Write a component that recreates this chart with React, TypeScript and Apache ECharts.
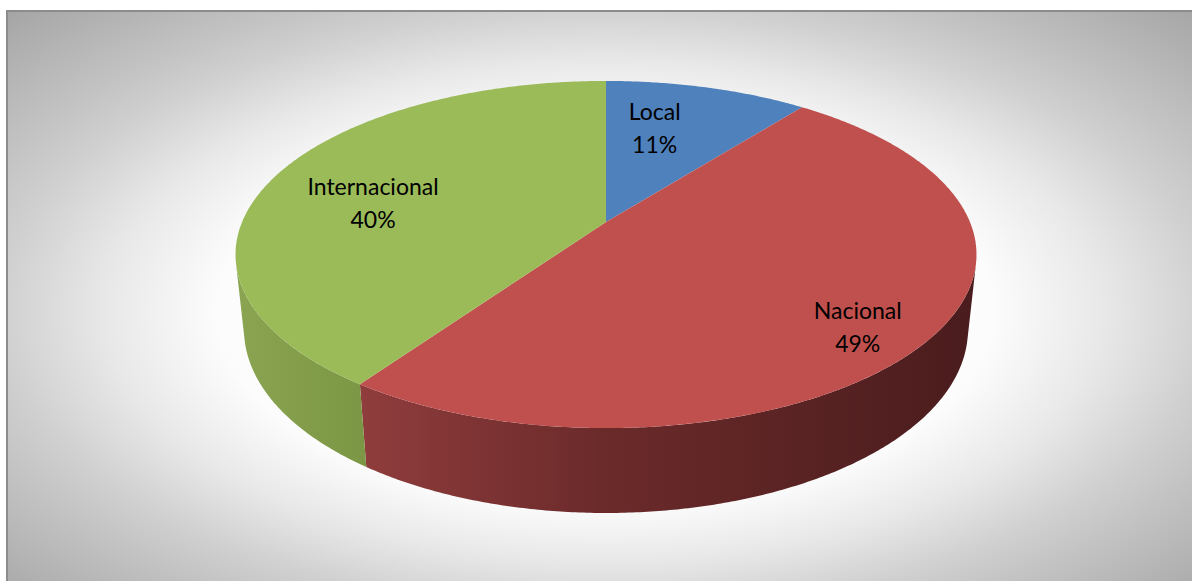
import React, { useEffect, useRef } from "react";
import * as echarts from "echarts";

// ---- data ----
const categories = ["Local", "Nacional", "Internacional"];
const values = [10.6, 49.1, 40.3];

// ---- styles ----
const topColors = ["#4f81bd", "#c0504d", "#9bbb59"];
const sideStops: Array<Array<[number, string]>> = [
  [[0, "#3f6496"], [1, "#243a57"]],
  [[0, "#9a4242"], [0.17, "#8f3c3c"], [0.5, "#6b2a2a"], [1, "#4a1c1d"]],
  [[0, "#8aa451"], [0.18, "#7b9644"], [1, "#5a7230"]],
];
// label anchor: angle offset from slice middle (deg) and radius fraction
const labelDA = [-5.7, 5.4, -6.9];
const labelR = [0.646, 0.833, 0.666];

// ---- projection (perspective camera) ----
const DEG = Math.PI / 180;
const CX = 606;
const CY = 222;
const F = 1725;
const D = 4.74;
const PHI = 27.4 * DEG;
const C = Math.cos(PHI);
const S = Math.sin(PHI);
const H = 0.234;

function project(a: number, r: number, z: number): number[] {
  const x = r * Math.sin(a);
  const y = r * Math.cos(a);
  const depth = D + y * C - z * S;
  return [CX + (F * x) / depth, CY - (F * (y * S + z * C)) / depth];
}

function arcPoints(a0: number, a1: number, r: number, z: number): number[][] {
  const n = Math.max(2, Math.ceil(Math.abs(a1 - a0) / (0.5 * DEG)));
  const pts: number[][] = [];
  for (let k = 0; k <= n; k++) pts.push(project(a0 + ((a1 - a0) * k) / n, r, z));
  return pts;
}

const total = values.reduce((s, v) => s + v, 0);
function sliceAngles(i: number): number[] {
  let s = 0;
  for (let j = 0; j < i; j++) s += values[j];
  return [(s / total) * 2 * Math.PI, ((s + values[i]) / total) * 2 * Math.PI];
}

const visA = Math.acos(-1 / (D * C));
const visB = 2 * Math.PI - visA;

export default function App() {
  const ref = useRef<HTMLDivElement>(null);
  useEffect(() => {
    document.body.style.margin = "0";
    if (!ref.current) return;
    const chart = echarts.init(ref.current, null, { renderer: "svg" });
    const data = values.map((v, i) => ({ name: categories[i], value: v }));
    const xL = project(-Math.PI / 2, 1, 0)[0] - 5;
    const xR = project(Math.PI / 2, 1, 0)[0] + 5;
    chart.setOption({
      animation: false,
      graphic: [
        {
          type: "rect",
          z: -10,
          silent: true,
          shape: { x: 7, y: 11, width: 1196, height: 600 },
          style: {
            fill: {
              type: "radial",
              x: 0.5,
              y: 0.5,
              r: 0.72,
              colorStops: [
                { offset: 0, color: "#ffffff" },
                { offset: 0.45, color: "#fcfcfc" },
                { offset: 0.58, color: "#e8e8e8" },
                { offset: 0.7, color: "#d0d0d0" },
                { offset: 0.78, color: "#c3c3c3" },
                { offset: 1, color: "#a2a2a2" },
              ],
            },
            stroke: "#8c8c8c",
            lineWidth: 2,
          },
        },
      ],
      series: [
        {
          type: "custom",
          coordinateSystem: "none",
          z: 2,
          data,
          renderItem: (params: any, api: any) => {
            const i = params.dataIndex;
            api.value(0);
            const [a0, a1] = sliceAngles(i);
            const lo = Math.max(a0, visA);
            const hi = Math.min(a1, visB);
            if (lo >= hi) return { type: "group", children: [] };
            const pts = arcPoints(lo, hi, 1, 0).concat(arcPoints(hi, lo, 1, -H));
            return {
              type: "polygon",
              shape: { points: pts },
              style: {
                fill: {
                  type: "linear",
                  x: xL,
                  y: 0,
                  x2: xR,
                  y2: 0,
                  global: true,
                  colorStops: sideStops[i].map(([o, c]) => ({ offset: o, color: c })),
                },
              },
            };
          },
        },
        {
          type: "custom",
          coordinateSystem: "none",
          z: 3,
          data,
          renderItem: (params: any, api: any) => {
            const i = params.dataIndex;
            const v = api.value(0);
            const [a0, a1] = sliceAngles(i);
            const pts = [project(0, 0, 0)].concat(arcPoints(a0, a1, 1, 0));
            const mid = (a0 + a1) / 2 + labelDA[i] * DEG;
            const lp = project(mid, labelR[i], 0);
            return {
              type: "group",
              children: [
                {
                  type: "polygon",
                  shape: { points: pts },
                  style: { fill: topColors[i] },
                },
                {
                  type: "text",
                  x: lp[0],
                  y: lp[1],
                  style: {
                    text: `${categories[i]}\n${Math.round((v / total) * 100)}%`,
                    fill: "#000000",
                    fontSize: 23,
                    fontFamily: "Lato",
                    align: "center",
                    verticalAlign: "middle",
                    lineHeight: 33,
                  },
                },
              ],
            };
          },
        },
      ],
    });
    return () => chart.dispose();
  }, []);
  return <div ref={ref} style={{ width: 1192, height: 581 }} />;
}
